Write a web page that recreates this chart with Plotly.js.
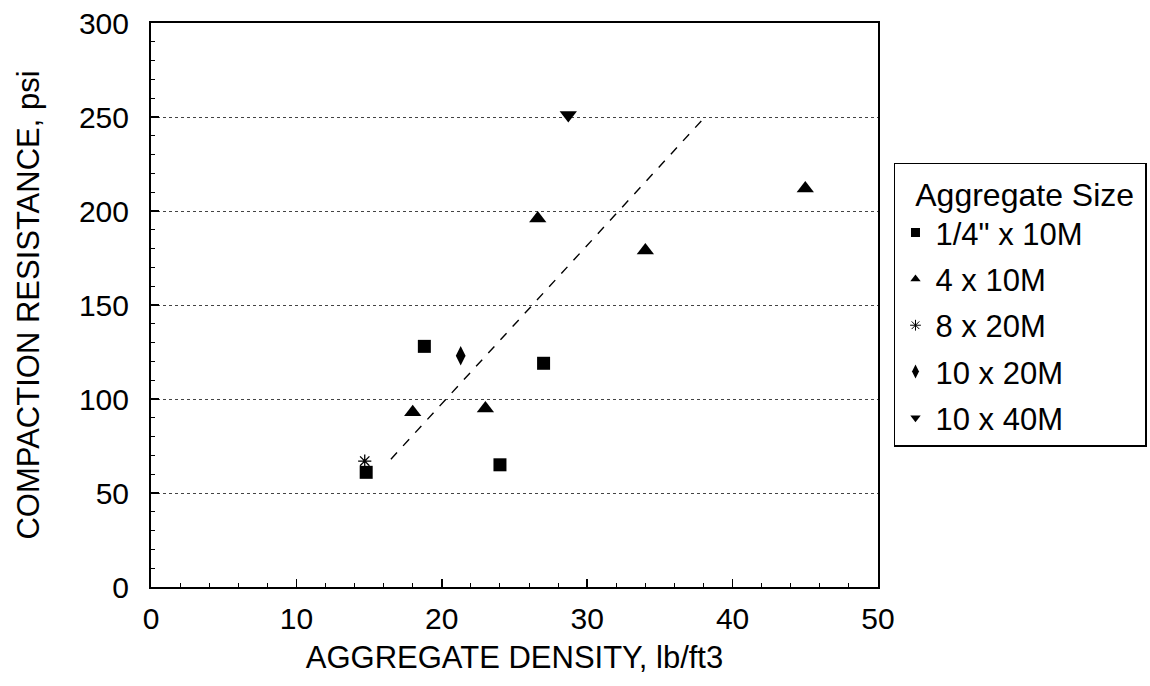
<!DOCTYPE html>
<html>
<head>
<meta charset="utf-8">
<script src="https://cdn.plot.ly/plotly-3.0.1.min.js"></script>
<style>html,body{margin:0;padding:0;background:#fff;}#chart{width:1150px;height:686px;}</style>
</head>
<body>
<div id="chart"></div>
<script>
// Data
var seriesNames = ['1/4" x 10M', '4 x 10M', '8 x 20M', '10 x 20M', '10 x 40M'];
var sq_x = [14.8, 18.8, 24.0, 27.0];
var sq_y = [61, 128, 65, 119];
var tri_x = [18.0, 23.0, 26.6, 34.0, 45.0];
var tri_y = [93, 95, 196, 179, 212];
var star_x = [14.7];
var star_y = [67];
var dia_x = [21.3];
var dia_y = [123];
var dtri_x = [28.7];
var dtri_y = [251];
var trend_x = [16.5, 38.1];
var trend_y = [68, 250];
var xTicks = [0, 10, 20, 30, 40, 50];
var yTicks = [0, 50, 100, 150, 200, 250, 300];

var fontFam = '"Liberation Sans", Arial, sans-serif';
var symbols = ['square', 'triangle-up', 'asterisk-open', 'diamond-tall', 'triangle-down'];
var dataSizes = [13, 15, 11, 14, 15];
var legSizes = [9, 9, 9, 10, 9];
var xs = [sq_x, tri_x, star_x, dia_x, dtri_x];
var ys = [sq_y, tri_y, star_y, dia_y, dtri_y];

var traces = [];
for (var i = 0; i < seriesNames.length; i++) {
  var isStar = symbols[i] === 'asterisk-open';
  traces.push({
    x: xs[i], y: ys[i], name: seriesNames[i], type: 'scatter', mode: 'markers',
    showlegend: false, cliponaxis: false,
    marker: {symbol: symbols[i], size: dataSizes[i], color: 'black',
             line: {color: 'black', width: isStar ? 1.3 : 0}}
  });
}
// legend-only entries (smaller symbols, as in the reference legend)
for (var j = 0; j < seriesNames.length; j++) {
  var isStar2 = symbols[j] === 'asterisk-open';
  traces.push({
    x: [null], y: [null], name: seriesNames[j], type: 'scatter', mode: 'markers',
    legendgroup: 'g' + j, showlegend: true,
    marker: {symbol: symbols[j], size: legSizes[j], color: 'black',
             line: {color: 'black', width: isStar2 ? 1 : 0}}
  });
}
traces.push({x: trend_x, y: trend_y, type: 'scatter', mode: 'lines', showlegend: false,
   line: {color: 'black', width: 1.4, dash: 'dash'}});

var axCommon = {
  showline: true, linecolor: 'black', linewidth: 2, mirror: true,
  ticks: 'inside', ticklen: 8, tickwidth: 1.5, tickcolor: 'black',
  zeroline: false, tickfont: {family: fontFam, size: 30, color: 'black'}
};
var layout = {
  width: 1150, height: 686,
  margin: {l: 151, r: 272, t: 23, b: 99, autoexpand: false},
  paper_bgcolor: 'white', plot_bgcolor: 'white',
  font: {family: fontFam, color: 'black'},
  xaxis: Object.assign({}, axCommon, {
    range: [0, 50], tickvals: xTicks, showgrid: false, ticklabelstandoff: 4,
    minor: {dtick: 2, ticks: 'inside', ticklen: 4, tickcolor: 'black', tickwidth: 1},
    title: {text: 'AGGREGATE DENSITY, lb/ft3', font: {family: fontFam, size: 31, color: 'black'}, standoff: 12}
  }),
  yaxis: Object.assign({}, axCommon, {
    range: [0, 300], tickvals: yTicks, showgrid: true, gridcolor: '#444', gridwidth: 1, griddash: 'dot',
    ticklabelstandoff: 14,
    minor: {dtick: 10, ticks: 'inside', ticklen: 4, tickcolor: 'black', tickwidth: 1, showgrid: false},
    title: {text: 'COMPACTION RESISTANCE, psi', font: {family: fontFam, size: 31, color: 'black'}, standoff: 30}
  }),
  showlegend: true,
  legend: {
    x: 1.022, y: 0.752, xanchor: 'left', yanchor: 'top',
    bordercolor: 'black', borderwidth: 1.5, bgcolor: 'white',
    font: {family: fontFam, size: 31, color: 'black'},
    title: {text: '\u00a0\u00a0Aggregate Size\u00a0', font: {family: fontFam, size: 32, color: 'black'}},
    tracegroupgap: 3, itemwidth: 30
  }
};
Plotly.newPlot('chart', traces, layout, {displayModeBar: false, staticPlot: true});
</script>
</body>
</html>
